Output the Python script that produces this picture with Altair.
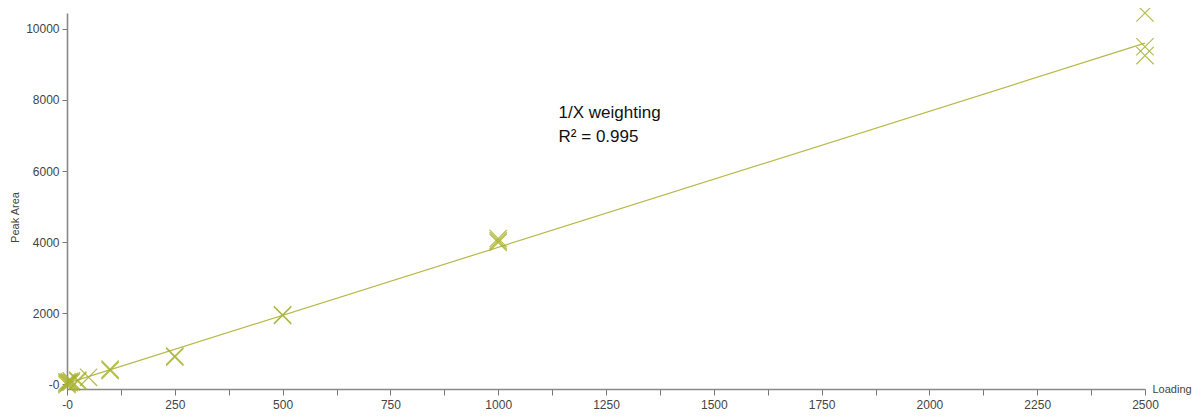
import altair as alt
import pandas as pd

# Calibration data (Loading vs Peak Area)
loading = [0, 0, 0, 5, 5, 10, 10, 25, 25, 50, 100, 100, 250, 250,
           500, 500, 1000, 1000, 1000, 2500, 2500, 2500]
peak_area = [20, 60, -20, 40, 70, 50, 90, 110, 80, 190, 420, 380, 790, 760,
             1950, 1930, 4100, 3990, 4040, 10450, 9500, 9250]

# Fitted line (1/X weighting), endpoints
fit_x = [0, 2500]
fit_y = [20, 9600]

ann_x = [1140, 1140]
ann_y = [7640, 6950]
ann_text = ["1/X weighting", "R\u00b2 = 0.995"]

pts = pd.DataFrame({"Loading": loading, "Peak Area": peak_area})
fit = pd.DataFrame({"Loading": fit_x, "Peak Area": fit_y})
ann = pd.DataFrame({"Loading": ann_x, "Peak Area": ann_y, "t": ann_text})

x_ticks = [i * 125 for i in range(21)]
y_ticks = [i * 1000 for i in range(11)]

xs = alt.Scale(domain=[0, 2500], nice=False, zero=False)
ys = alt.Scale(domain=[-139, 10450], nice=False, zero=False)

x_axis = alt.Axis(
    values=x_ticks,
    labelExpr="datum.value == 0 ? '-0' : (datum.value % 250 == 0 ? format(datum.value, 'd') : '')",
    title="Loading", titleAngle=0, titleX=1085, titleY=0,
    titleAlign="left", titleBaseline="middle",
    titleFontSize=11, titleFontWeight="normal", titleColor="#444444",
    labelFontSize=12, labelColor="#444444", labelPadding=4,
    tickSize=6, tickColor="#777777", domainColor="#888888", domainWidth=1.6,
    labelFlush=False, labelOverlap=False, grid=False,
)
y_axis = alt.Axis(
    values=y_ticks,
    labelExpr="datum.value == 0 ? '-0' : (datum.value % 2000 == 0 ? format(datum.value, 'd') : '')",
    title="Peak Area", titleAngle=270, titleX=-52, titleY=204,
    titleAlign="center", titleBaseline="middle",
    titleFontSize=11, titleFontWeight="normal", titleColor="#444444",
    labelFontSize=12, labelColor="#444444", labelPadding=3,
    tickSize=5, tickColor="#777777", domainColor="#888888", domainWidth=1.6,
    labelOverlap=False, grid=False,
)

line = alt.Chart(fit).mark_line(color="#b9b84a", strokeWidth=1.2).encode(
    x=alt.X("Loading:Q", scale=xs, axis=x_axis),
    y=alt.Y("Peak Area:Q", scale=ys, axis=y_axis),
)

points = alt.Chart(pts).mark_point(
    shape="M-1,-1L1,1M-1,1L1,-1", filled=False, size=300,
    strokeWidth=1.2, color="#a9b330", opacity=0.85,
).encode(
    x=alt.X("Loading:Q", scale=xs),
    y=alt.Y("Peak Area:Q", scale=ys),
)

text = alt.Chart(ann).mark_text(
    align="left", baseline="middle", fontSize=17, font="Liberation Sans",
    color="#111111",
).encode(
    x=alt.X("Loading:Q", scale=xs),
    y=alt.Y("Peak Area:Q", scale=ys),
    text="t:N",
)

chart = alt.layer(line, points, text).properties(
    width=1078, height=376,
    padding={"left": 59, "top": 5, "right": 48, "bottom": 25},
    autosize=alt.AutoSizeParams(type="none"),
).configure(font="Liberation Sans").configure_view(stroke=None, strokeWidth=0)

chart.save("out.html", embed_options={"renderer": "svg", "actions": False})
